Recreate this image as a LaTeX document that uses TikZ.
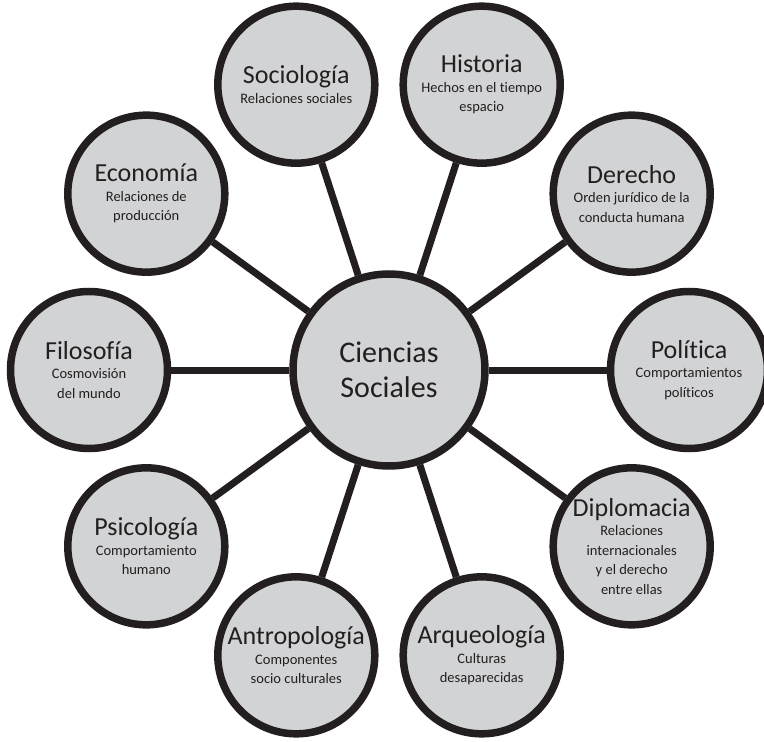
\documentclass[tikz,border=0pt]{standalone}
\usepackage{fontspec}
\setmainfont{Carlito}[Ligatures=NoCommon]
\usepackage{tikz}
\usepackage{xcolor}
\definecolor{relleno}{RGB}{209,211,212}
\definecolor{linea}{RGB}{35,31,32}
\newcommand{\Rama}[1]{{\fontsize{26}{28}\selectfont #1}}
\tikzset{
  ciencias/.style={
    level distance=300pt,
    sibling distance=0pt,
    every node/.style={circle, draw=linea, fill=relleno, line width=7.5pt,
      inner sep=0pt, align=center, text=linea},
    edge from parent/.style={draw=linea, line width=7pt}
  },
  centro/.style={minimum size=192pt, font=\fontsize{30}{35}\selectfont},
  rama/.style={minimum size=157pt, font=\fontsize{14.5}{19.5}\selectfont}
}

\begin{document}
\begin{tikzpicture}[x=1pt,y=1pt,ciencias]
    \useasboundingbox (-389,-372) rectangle (375,370);
    \node[centro] (cs) {Ciencias\\Sociales}
    child[grow=108] { node[rama] (soc) {\Rama{Sociología}\\Relaciones sociales} }
    child[grow=72] { node[rama] (his) {\Rama{Historia}\\Hechos en el tiempo\\espacio} }
    child[grow=36] { node[rama] (der) {\Rama{Derecho}\\Orden jurídico de la\\conducta humana} }
    child[grow=0] { node[rama] (pol) {\Rama{Política}\\Comportamientos\\políticos} }
    child[grow=-36] { node[rama] (dip) {\Rama{Diplomacia}\\Relaciones\\internacionales\\y el derecho\\entre ellas} }
    child[grow=-72] { node[rama] (arq) {\Rama{Arqueología}\\Culturas\\desaparecidas} }
    child[grow=-108] { node[rama] (ant) {\Rama{Antropología}\\Componentes\\socio culturales} }
    child[grow=-144] { node[rama] (psi) {\Rama{Psicología}\\Comportamiento\\humano} }
    child[grow=180] { node[rama] (fil) {\Rama{Filosofía}\\Cosmovisión\\del mundo} }
    child[grow=144] { node[rama] (eco) {\Rama{Economía}\\Relaciones de\\producción} };
  \end{tikzpicture}
\end{document}
